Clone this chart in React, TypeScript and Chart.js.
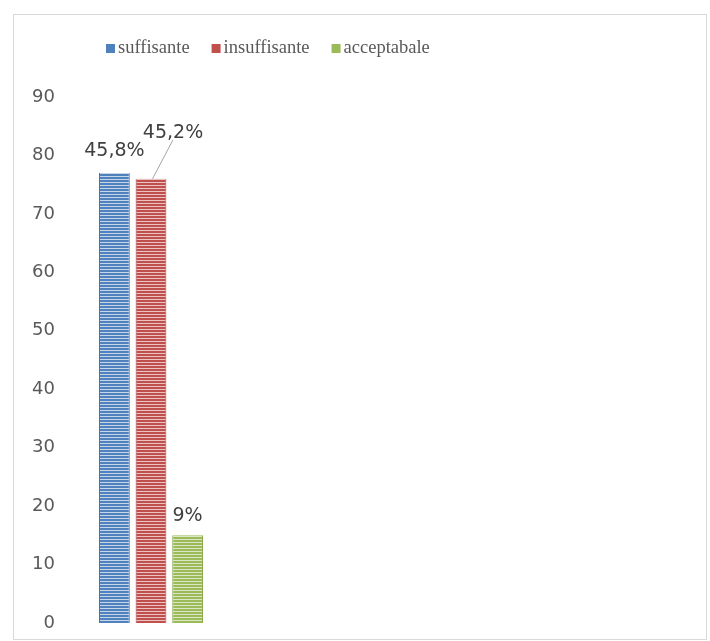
import React, { useEffect, useRef } from "react";
import { Chart, registerables } from "chart.js";

Chart.register(...registerables);

// Survey results: one group of three bars
const categories = ["", "", "", "", ""];
const seriesNames = ["suffisante", "insuffisante", "acceptabale"];
const seriesValues = [77, 76, 15];
const valueLabels = ["45,8%", "45,2%", "9%"];
const yTicks = [0, 10, 20, 30, 40, 50, 60, 70, 80, 90];

const baseColors = ["#4f81bd", "#c0504d", "#9bbb59"];
const lightColors = ["#c5d5ea", "#eac2c1", "#dbe7c4"];
const edgeColors = ["#3f6ea8", "#a9403d", "#86a547"];

function stripes(main: string, light: string): CanvasPattern | string {
  const c = document.createElement("canvas");
  c.width = 4;
  c.height = 3;
  const g = c.getContext("2d");
  if (!g) return main;
  g.fillStyle = main;
  g.fillRect(0, 0, 4, 3);
  g.fillStyle = light;
  g.fillRect(0, 2, 4, 1);
  const p = g.createPattern(c, "repeat");
  return p || main;
}

const framePlugin = {
  id: "frame",
  beforeDraw(chart: any) {
    const ctx = chart.ctx;
    ctx.save();
    ctx.fillStyle = "#ffffff";
    ctx.fillRect(0, 0, chart.width, chart.height);
    ctx.strokeStyle = "#d9d9d9";
    ctx.lineWidth = 1;
    ctx.strokeRect(13.5, 14.5, 693, 625);
    ctx.restore();
  },
};

const legendPlugin = {
  id: "customLegend",
  afterDraw(chart: any) {
    const ctx = chart.ctx;
    ctx.save();
    ctx.font = '18.5px "Liberation Serif"';
    ctx.textBaseline = "middle";
    ctx.textAlign = "left";
    let x = 106;
    const y = 48;
    seriesNames.forEach((name, i) => {
      ctx.fillStyle = baseColors[i];
      ctx.fillRect(x, y - 4, 9, 9);
      x += 12;
      ctx.fillStyle = "#595959";
      ctx.fillText(name, x, y);
      x += ctx.measureText(name).width + 22;
    });
    ctx.restore();
  },
};

// Value labels above bars; the second one sits up-right with a leader line
const labelOffsets = [
  { dx: 0, dy: -22, leader: false },
  { dx: 22, dy: -46, leader: true },
  { dx: 0, dy: -19, leader: false },
];

const valueLabelPlugin = {
  id: "valueLabels",
  afterDatasetsDraw(chart: any) {
    const ctx = chart.ctx;
    ctx.save();
    ctx.font = '19px "DejaVu Sans"';
    ctx.textAlign = "center";
    ctx.textBaseline = "middle";
    chart.data.datasets.forEach((_ds: any, i: number) => {
      const meta = chart.getDatasetMeta(i);
      const bar = meta.data[0];
      if (!bar) return;
      const off = labelOffsets[i];
      const lx = bar.x + off.dx;
      const ly = bar.y + off.dy;
      if (off.leader) {
        ctx.strokeStyle = "#a6a6a6";
        ctx.lineWidth = 1;
        ctx.beginPath();
        ctx.moveTo(bar.x + 1.5, bar.y);
        ctx.lineTo(lx, ly + 7);
        ctx.stroke();
      }
      ctx.fillStyle = "#404040";
      ctx.fillText(valueLabels[i], lx, ly);
    });
    ctx.restore();
  },
};

export default function App() {
  const canvasRef = useRef<HTMLCanvasElement | null>(null);

  useEffect(() => {
    document.body.style.margin = "0";
    const canvas = canvasRef.current;
    if (!canvas) return;

    const datasets = seriesNames.map((name, i) => ({
      label: name,
      data: categories.map((_c, k) => (k === 0 ? seriesValues[i] : null)),
      backgroundColor: stripes(baseColors[i], lightColors[i]),
      borderColor: edgeColors[i],
      borderWidth: { left: 1, right: 1, top: 0, bottom: 0 },
      categoryPercentage: 0.9,
      barPercentage: 0.84,
    }));

    const chart = new Chart(canvas, {
      type: "bar",
      data: { labels: categories, datasets },
      options: {
        responsive: false,
        animation: false,
        layout: { padding: { left: 20, right: 10, top: 97, bottom: 18 } },
        plugins: {
          legend: { display: false },
          tooltip: { enabled: false },
        },
        scales: {
          x: { display: false },
          y: {
            min: 0,
            max: 90,
            afterFit(scale: any) {
              scale.width = 70;
              scale.paddingTop = 0;
              scale.paddingBottom = 0;
            },
            afterBuildTicks(scale: any) {
              scale.ticks = yTicks.map((v) => ({ value: v }));
            },
            grid: { display: false, drawTicks: false },
            border: { display: false },
            ticks: {
              padding: 35,
              color: "#595959",
              font: { family: "DejaVu Sans", size: 18 },
            },
          },
        },
      },
      plugins: [framePlugin, legendPlugin, valueLabelPlugin],
    });

    return () => chart.destroy();
  }, []);

  return (
    <div style={{ width: 710, height: 641 }}>
      <canvas ref={canvasRef} width={710} height={641} style={{ display: "block" }} />
    </div>
  );
}
